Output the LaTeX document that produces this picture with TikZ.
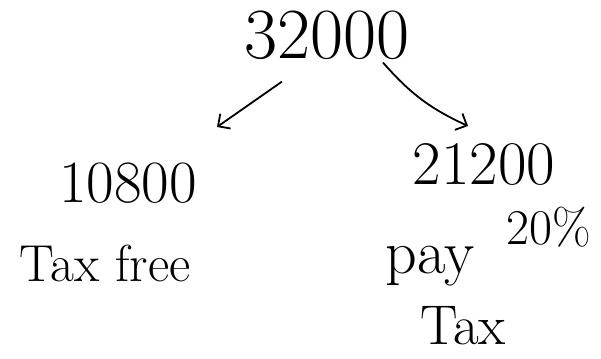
\documentclass[tikz,border=0pt]{standalone}
\usetikzlibrary{arrows.meta}
\begin{document}
\begin{tikzpicture}[x=1pt,y=-1pt]
\tikzset{hand/.style={inner sep=0pt},
  split/.style={line width=1.8pt,-{Straight Barb[length=9pt,width=18pt]}}}
\useasboundingbox (0,0) rectangle (601,358);
\node[hand,font=\fontsize{72}{72}\selectfont] (total) at (327,35) {32000};
\node[hand,font=\fontsize{60}{60}\selectfont] (free) at (128,183) {10800};
\node[hand,font=\fontsize{52}{52}\selectfont] (freetxt) at (105,263) {Tax free};
\node[hand,font=\fontsize{62}{62}\selectfont] (taxed) at (484,165) {21200};
\node[hand,font=\fontsize{50}{50}\selectfont] (rate) at (549,227) {20\%};
\node[hand,font=\fontsize{62}{62}\selectfont] (pay) at (430,266) {pay};
\node[hand,font=\fontsize{56}{56}\selectfont] (tax) at (463,326) {Tax};
\coordinate (ltip) at (217,127);
\coordinate (rtip) at (468,126);
\draw[split] ([xshift=-45pt,yshift=-22pt]total.south) -- (ltip);
\draw[split] ([xshift=56pt,yshift=-3pt]total.south) to[bend right=12] (rtip);
\end{tikzpicture}
\end{document}
